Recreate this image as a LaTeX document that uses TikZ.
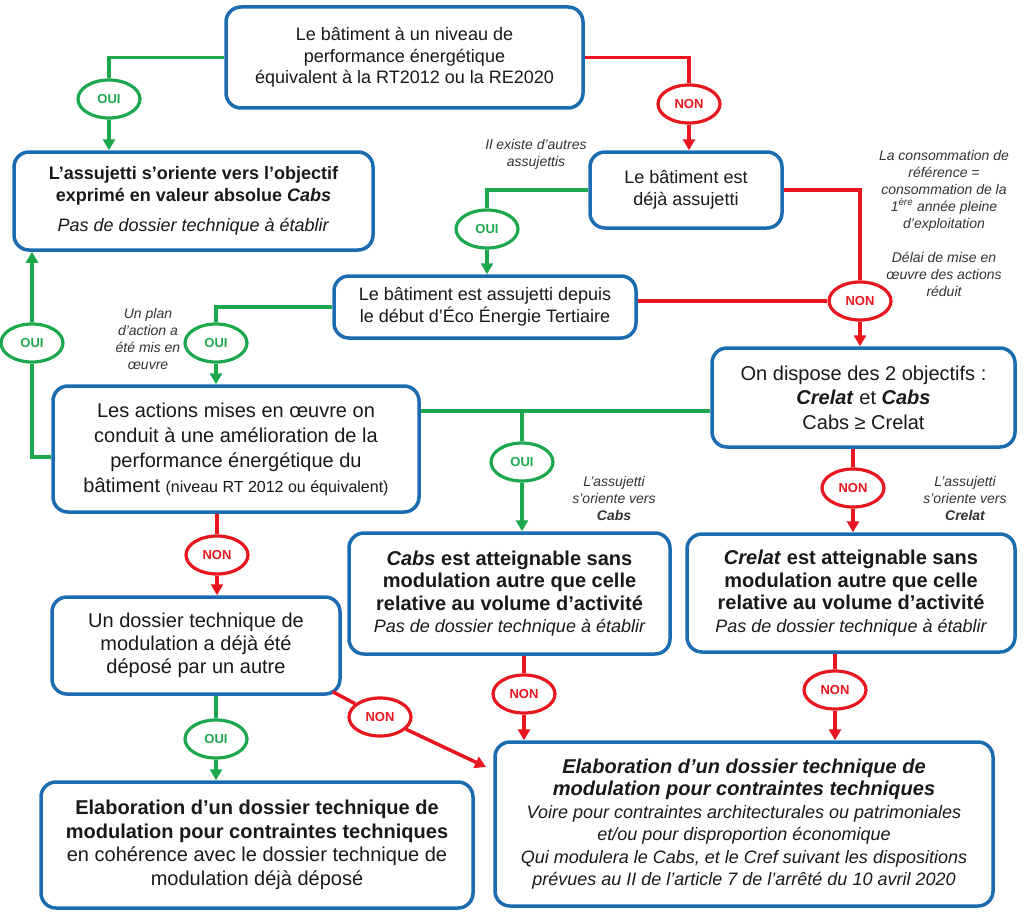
\documentclass[tikz,border=0pt]{standalone}
\usepackage{fontspec}
\setmainfont{Liberation Sans}
\usetikzlibrary{shapes.geometric,arrows.meta}
\definecolor{bblue}{RGB}{28,108,178}
\definecolor{ggreen}{RGB}{30,168,78}
\definecolor{rred}{RGB}{232,22,30}
\definecolor{txt}{RGB}{25,25,25}
\begin{document}
\begin{tikzpicture}[x=1pt,y=-1pt,
  box/.style={draw=bblue,line width=3.5pt,rounded corners=15pt,align=center,text=txt,inner sep=0pt},
  fA/.style={font=\fontsize{18}{21.5}\selectfont},
  fB/.style={font=\fontsize{20}{23}\selectfont},
  oval/.style={ellipse,line width=3.2pt,minimum width=62pt,minimum height=38pt,inner sep=0pt,font=\bfseries\fontsize{13}{13}\selectfont},
  oui/.style={oval,draw=ggreen,text=ggreen},
  non/.style={oval,draw=rred,text=rred},
  gl/.style={draw=ggreen,line width=3.5pt},
  rl/.style={draw=rred,line width=3.5pt},
  ga/.style={gl,-{Triangle[length=11pt,width=12pt]}},
  ra/.style={rl,-{Triangle[length=11pt,width=12pt]}},
  note/.style={align=center,font=\itshape\fontsize{14}{17}\selectfont,text=black!80,inner sep=0pt},
]
\useasboundingbox (0,0) rectangle (1024,923);
\fill[white] (0,0) rectangle (1024,923);

% boxes
\node[box,fA,minimum width=357pt,minimum height=101pt] (B1) at (404.5,57.5)
  {Le bâtiment à un niveau de\\performance énergétique\\équivalent à la RT2012 ou la RE2020};
\node[box,fA,minimum width=359pt,minimum height=98pt] (B2) at (193.5,201)
  {\textbf{L’assujetti s’oriente vers l’objectif}\\\textbf{exprimé en valeur absolue \textit{Cabs}}\\[9pt]\textit{Pas de dossier technique à établir}};
\node[box,fA,minimum width=192pt,minimum height=76pt] (B3) at (686,190)
  {Le bâtiment est\\déjà assujetti};
\node[box,fA,minimum width=302pt,minimum height=62pt] (B4) at (485,307)
  {Le bâtiment est assujetti depuis\\le début d’Éco Énergie Tertiaire};
\node[box,font=\fontsize{20}{25}\selectfont,minimum width=366pt,minimum height=126pt] (B5) at (236,449)
  {Les actions mises en œuvre on\\conduit à une amélioration de la\\performance énergétique du\\bâtiment {\fontsize{16}{25}\selectfont (niveau RT 2012 ou équivalent)}};
\node[box,font=\fontsize{20}{24.5}\selectfont,minimum width=303pt,minimum height=99pt] (B6) at (863.5,397.5)
  {On dispose des 2 objectifs :\\\textbf{\textit{Crelat}} et \textbf{\textit{Cabs}}\\Cabs ≥ Crelat};
\node[box,font=\fontsize{20}{22.5}\selectfont,minimum width=321pt,minimum height=121pt] (B7) at (509.5,593.5)
  {\textbf{\textit{Cabs} est atteignable sans}\\\textbf{modulation autre que celle}\\\textbf{relative au volume d’activité}\\{\fontsize{18}{22.5}\selectfont\itshape Pas de dossier technique à établir}};
\node[box,font=\fontsize{20}{22.5}\selectfont,minimum width=328pt,minimum height=118pt] (B8) at (851,593)
  {\textbf{\textit{Crelat} est atteignable sans}\\\textbf{modulation autre que celle}\\\textbf{relative au volume d’activité}\\{\fontsize{18}{22.5}\selectfont\itshape Pas de dossier technique à établir}};
\node[box,fB,minimum width=288pt,minimum height=97pt] (B9) at (196,645.5)
  {Un dossier technique de\\modulation a déjà été\\déposé par un autre};
\node[box,font=\fontsize{20}{23.5}\selectfont,minimum width=432pt,minimum height=126pt] (B10) at (257,845)
  {\textbf{Elaboration d’un dossier technique de}\\\textbf{modulation pour contraintes techniques}\\en cohérence avec le dossier technique de\\modulation déjà déposé};
\node[box,font=\fontsize{20}{22.5}\selectfont,minimum width=498pt,minimum height=164pt] (B11) at (744,824)
  {\textbf{\textit{Elaboration d’un dossier technique de}}\\\textbf{\textit{modulation pour contraintes techniques}}\\{\fontsize{18}{22.5}\selectfont\itshape Voire pour contraintes architecturales ou patrimoniales}\\{\fontsize{18}{22.5}\selectfont\itshape et/ou pour disproportion économique}\\{\fontsize{18}{22.5}\selectfont\itshape Qui modulera le Cabs, et le Cref suivant les dispositions}\\{\fontsize{18}{22.5}\selectfont\itshape prévues au II de l’article 7 de l’arrêté du 10 avril 2020}};

% ovals
\node[oui] (E1) at (109,99) {OUI};
\node[non] (E2) at (689,104) {NON};
\node[oui] (E3) at (487,229) {OUI};
\node[non] (E4) at (860,301) {NON};
\node[oui] (E5) at (216,343) {OUI};
\node[oui] (E6) at (32,343) {OUI};
\node[oui] (E7) at (522,462) {OUI};
\node[non] (E8) at (853,488) {NON};
\node[non] (E9) at (217,555) {NON};
\node[oui] (E10) at (216,739) {OUI};
\node[non] (E11) at (380,717) {NON};
\node[non] (E12) at (524,694) {NON};
\node[non] (E13) at (835,690) {NON};

% notes
\node[note] (N1) at (536,154) {Il existe d’autres\\assujettis};
\node[note] (N2) at (944,223) {La consommation de\\référence =\\consommation de la\\1\textsuperscript{ère} année pleine\\d’exploitation\\[17pt]Délai de mise en\\œuvre des actions\\réduit};
\node[note] (N3) at (148,339) {Un plan\\d’action a\\été mis en\\œuvre};
\node[note] (N4) at (614,498) {L’assujetti\\s’oriente vers\\\textbf{Cabs}};
\node[note] (N5) at (965,498) {L’assujetti\\s’oriente vers\\\textbf{Crelat}};

% connectors
\coordinate (J) at (522,411);
\coordinate (T) at (486,767);

\draw[gl] (B1.west) -| (E1);
\draw[ga] (E1) -- (E1 |- B2.north);
\draw[rl] (B1.east) -| (E2);
\draw[ra] (E2) -- (E2 |- B3.north);
\draw[gl] (B3.west) -| (E3);
\draw[ga] (E3) -- (E3 |- B4.north);
\draw[rl] (B3.east) -| (E4);
\draw[rl] (B4.east |- E4) -- (E4.west);
\draw[ra] (E4) -- (E4 |- B6.north);
\draw[gl] (B4.west) -| (E5);
\draw[ga] (E5) -- (E5 |- B5.north);
\draw[gl] ([yshift=-8pt]B5.west) -| (E6);
\draw[ga] (E6) -- (E6 |- B2.south);
\draw[gl] (B5.east |- J) -- (B6.west |- J);
\draw[gl] (J) -- (E7);
\draw[ga] (E7) -- (E7 |- B7.north);
\draw[rl] (E8 |- B6.south) -- (E8);
\draw[ra] (E8) -- (E8 |- B8.north);
\draw[rl] (E9 |- B5.south) -- (E9);
\draw[ra] (E9) -- (E9 |- B9.north);
\draw[gl] (E10 |- B9.south) -- (E10);
\draw[ga] (E10) -- (E10 |- B10.north);
\draw[rl] ([shift={(-9pt,4pt)}]B9.south east) -- (E11);
\draw[ra] (E11) -- (T);
\draw[rl] (E12 |- B7.south) -- (E12);
\draw[ra] (E12) -- (E12 |- B11.north);
\draw[rl] (E13 |- B8.south) -- (E13);
\draw[ra] (E13) -- (E13 |- B11.north);
\end{tikzpicture}
\end{document}
